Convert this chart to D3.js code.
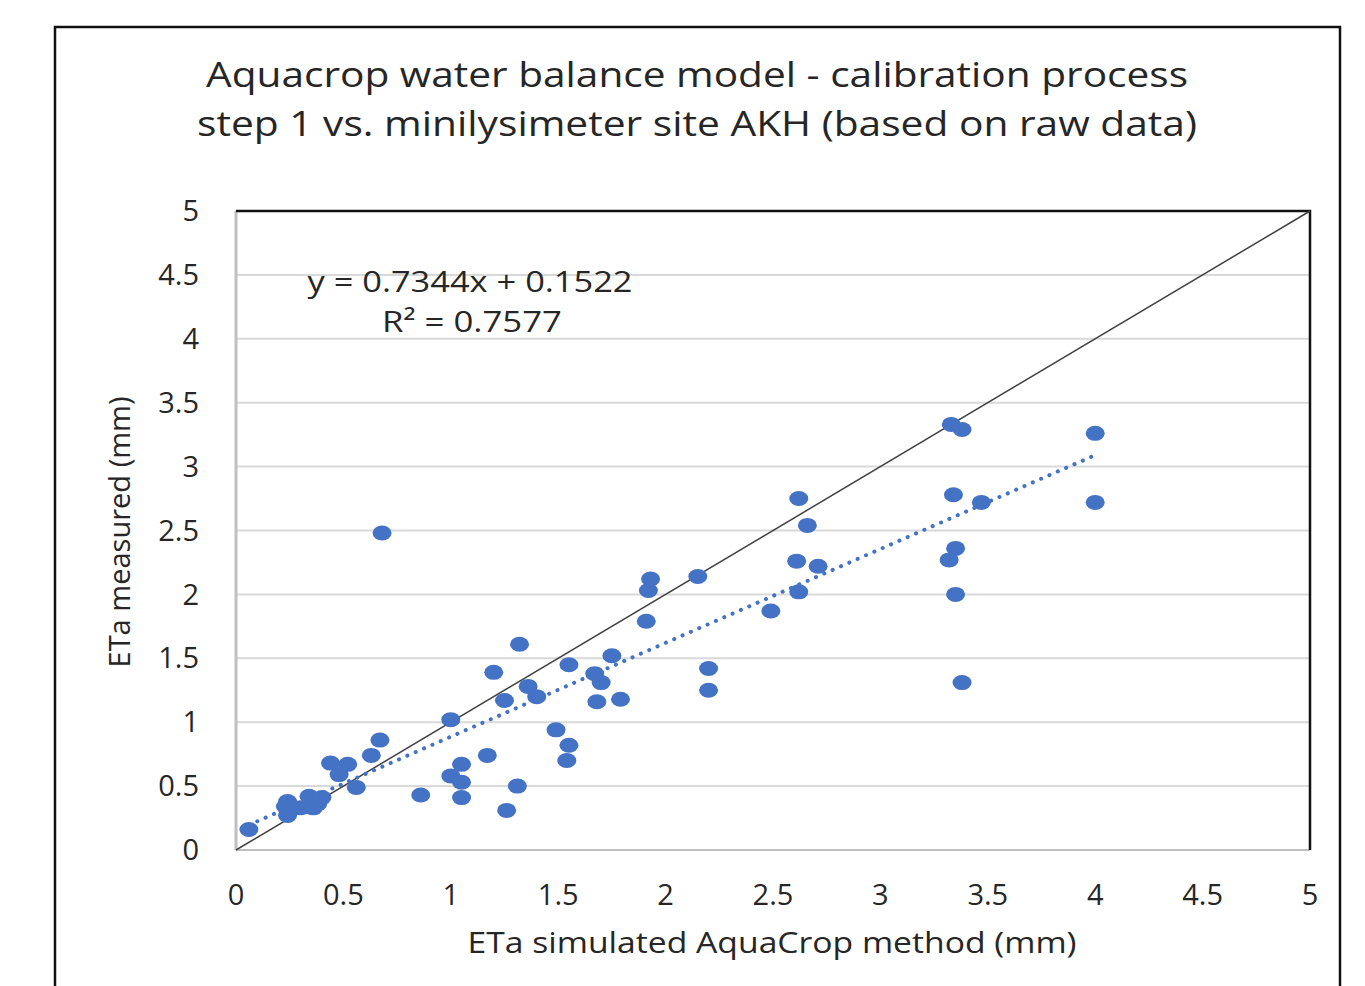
<!DOCTYPE html>
<html>
<head>
<meta charset="utf-8">
<script src="https://cdn.jsdelivr.net/npm/d3@7"></script>
<style>
  body { margin: 0; background: #fff; }
  text { font-family: "Open Sans", "Noto Sans", sans-serif; fill: #262626; }
</style>
</head>
<body>
<div id="chart"></div>
<script>
// ETa simulated (x) vs ETa measured (y), mm
const simulated = [0.06, 0.24, 0.23, 0.24, 0.30, 0.34, 0.36, 0.40, 0.38, 0.44, 0.48, 0.52, 0.56, 0.63, 0.67, 0.68,
    0.86, 1.00, 1.00, 1.05, 1.05, 1.05, 1.17, 1.20, 1.25, 1.26, 1.31, 1.32, 1.36, 1.40, 1.49, 1.55, 1.54, 1.55,
    1.67, 1.70, 1.68, 1.75, 1.79, 1.91, 1.92, 1.93, 2.15, 2.20, 2.20, 2.49, 2.61, 2.62, 2.62, 2.66, 2.71,
    3.33, 3.38, 3.34, 3.47, 3.35, 3.32, 3.35, 3.38, 4.00, 4.00]
const measured = [0.16, 0.38, 0.34, 0.27, 0.33, 0.42, 0.33, 0.41, 0.36, 0.68, 0.59, 0.67, 0.49, 0.74, 0.86, 2.48,
    0.43, 1.02, 0.58, 0.67, 0.53, 0.41, 0.74, 1.39, 1.17, 0.31, 0.50, 1.61, 1.28, 1.20, 0.94, 0.82, 0.70, 1.45,
    1.38, 1.31, 1.16, 1.52, 1.18, 1.79, 2.03, 2.12, 2.14, 1.42, 1.25, 1.87, 2.26, 2.75, 2.02, 2.54, 2.22,
    3.33, 3.29, 2.78, 2.72, 2.36, 2.27, 2.00, 1.31, 3.26, 2.72]
const ticks = [0, 0.5, 1, 1.5, 2, 2.5, 3, 3.5, 4, 4.5, 5]
const slope = 0.7344, intercept = 0.1522, r2 = 0.7577
const titleLines = ["Aquacrop water balance model - calibration process",
    "step 1 vs. minilysimeter site AKH (based on raw data)"]

const W = 1365, H = 986
const svg = d3.select('#chart').append('svg')
    .attr('width', W)
    .attr('height', H)

// chart border
svg.append('rect')
    .attr('x', 55).attr('y', 27)
    .attr('width', 1285).attr('height', H + 10)
    .attr('fill', 'none')
    .attr('stroke', '#111')
    .attr('stroke-width', 2.5)

const x = d3.scaleLinear().domain([0, 5]).range([236, 1310])
const y = d3.scaleLinear().domain([0, 5]).range([850, 211])

// gridlines
svg.append('g').selectAll('line').data(ticks.slice(1))
    .enter().append('line')
    .attr('x1', x(0)).attr('x2', x(5))
    .attr('y1', d => y(d)).attr('y2', d => y(d))
    .attr('stroke', '#d9d9d9')
    .attr('stroke-width', 2)

// axes lines (gray left/bottom, black top/right)
svg.append('line').attr('x1', x(0)).attr('x2', x(0)).attr('y1', y(0)).attr('y2', y(5))
    .attr('stroke', '#bfbfbf').attr('stroke-width', 3)
svg.append('line').attr('x1', x(0)).attr('x2', x(5)).attr('y1', y(0)).attr('y2', y(0))
    .attr('stroke', '#bfbfbf').attr('stroke-width', 2)
svg.append('polyline')
    .attr('points', [[x(0), y(5)], [x(5), y(5)], [x(5), y(0)]].map(p => p.join(',')).join(' '))
    .attr('fill', 'none').attr('stroke', '#111').attr('stroke-width', 2.5)

// tick labels
svg.append('g').selectAll('text').data(ticks)
    .enter().append('text')
    .attr('x', 199)
    .attr('y', d => y(d))
    .attr('dy', '0.35em')
    .attr('text-anchor', 'end')
    .style('font-size', '29px')
    .text(d => d)

svg.append('g').selectAll('text').data(ticks)
    .enter().append('text')
    .attr('x', d => x(d))
    .attr('y', 895)
    .attr('dy', '0.35em')
    .attr('text-anchor', 'middle')
    .style('font-size', '29px')
    .text(d => d)

// 1:1 line
svg.append('line')
    .attr('x1', x(0)).attr('y1', y(0))
    .attr('x2', x(5)).attr('y2', y(5))
    .attr('stroke', '#404040')
    .attr('stroke-width', 1.5)

// points
svg.append('g').selectAll('ellipse').data(simulated)
    .enter().append('ellipse')
    .attr('cx', d => x(d))
    .attr('cy', (d, i) => y(measured[i]))
    .attr('rx', 9.5)
    .attr('ry', 7.5)
    .attr('fill', '#4472c4')

// linear trendline (dotted)
const xmin = d3.min(simulated), xmax = d3.max(simulated)
svg.append('line')
    .attr('x1', x(xmin)).attr('y1', y(slope * xmin + intercept))
    .attr('x2', x(xmax)).attr('y2', y(slope * xmax + intercept))
    .attr('stroke', '#4472c4')
    .attr('stroke-width', 4)
    .attr('stroke-dasharray', '0.1 9')
    .attr('stroke-linecap', 'round')

// equation
svg.append('text')
    .attr('x', 470).attr('y', 281).attr('dy', '0.35em')
    .attr('text-anchor', 'middle')
    .attr('textLength', 325).attr('lengthAdjust', 'spacingAndGlyphs')
    .style('font-size', '30px')
    .text(`y = ${slope}x + ${intercept}`)
svg.append('text')
    .attr('x', 472).attr('y', 321).attr('dy', '0.35em')
    .attr('text-anchor', 'middle')
    .attr('textLength', 180).attr('lengthAdjust', 'spacingAndGlyphs')
    .style('font-size', '30px')
    .text(`R² = ${r2}`)

// title
svg.append('g').selectAll('text').data(titleLines)
    .enter().append('text')
    .attr('x', 697)
    .attr('y', (d, i) => 75 + i * 49)
    .attr('dy', '0.35em')
    .attr('text-anchor', 'middle')
    .attr('textLength', (d, i) => i === 0 ? 982 : 1000)
    .attr('lengthAdjust', 'spacingAndGlyphs')
    .style('font-size', '35px')
    .text(d => d)

// axis titles
svg.append('text')
    .attr('x', 772).attr('y', 943).attr('dy', '0.35em')
    .attr('text-anchor', 'middle')
    .attr('textLength', 609).attr('lengthAdjust', 'spacingAndGlyphs')
    .style('font-size', '29px')
    .text('ETa simulated AquaCrop method (mm)')

svg.append('text')
    .attr('transform', 'translate(120,532) rotate(-90)')
    .attr('dy', '0.35em')
    .attr('text-anchor', 'middle')
    .attr('textLength', 271).attr('lengthAdjust', 'spacingAndGlyphs')
    .style('font-size', '29px')
    .text('ETa measured (mm)')
</script>
</body>
</html>
